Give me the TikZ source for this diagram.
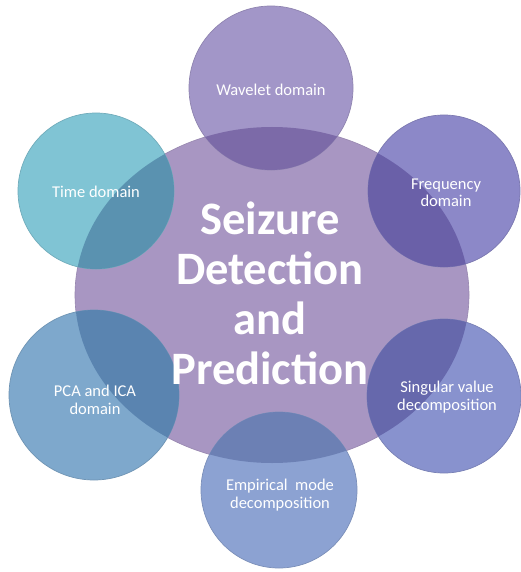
\documentclass[tikz,border=0pt]{standalone}
\usepackage{fontspec}
\setmainfont{Carlito}
\usetikzlibrary{shapes.geometric}
\definecolor{cmain}{RGB}{168,150,194}
\definecolor{cwave}{RGB}{162,150,200}
\definecolor{cwaveD}{RGB}{124,106,168}
\definecolor{cfreq}{RGB}{140,136,200}
\definecolor{cfreqD}{RGB}{106,96,168}
\definecolor{csing}{RGB}{136,146,206}
\definecolor{csingD}{RGB}{102,104,172}
\definecolor{cemp}{RGB}{140,162,210}
\definecolor{cempD}{RGB}{108,128,180}
\definecolor{cpca}{RGB}{126,168,204}
\definecolor{cpcaD}{RGB}{90,132,176}
\definecolor{ctime}{RGB}{128,196,212}
\definecolor{ctimeD}{RGB}{90,146,176}
\tikzset{
  sat/.style={circle, inner sep=0pt, minimum size=#1},
  rim/.style={draw=#1, line width=0.7pt},
  smalltext/.style={text=white, align=center, font=\fontsize{16.5}{17.5}\selectfont},
  bigtext/.style={text=white, align=center, font=\bfseries\fontsize{46.5}{50}\selectfont}
}
\begin{document}
\begin{tikzpicture}[x=1pt,y=-1pt]
\useasboundingbox (0,0) rectangle (520,572);
\fill[white] (0,0) rectangle (520,572);
% hub
\node[ellipse, inner sep=0pt, minimum width=394pt, minimum height=336pt, fill=cmain, draw=cmain!90!black, line width=0.6pt] (hub) at (272,295) {};
% satellites
\node[sat=164pt, fill=cwave, rim=cwave!88!black] (wave) at (271,88) {};
\node[sat=152pt, fill=cfreq, rim=cfreq!88!black] (freq) at (444,191) {};
\node[sat=154pt, fill=csing, rim=csing!88!black] (sing) at (444,396) {};
\node[sat=156pt, fill=cemp, rim=cemp!88!black] (emp) at (279,490) {};
\node[sat=170pt, fill=cpca, rim=cpca!88!black] (pca) at (94,395) {};
\node[sat=156pt, fill=ctime, rim=ctime!88!black] (time) at (96,191) {};
% overlaps with hub
\begin{scope}
  \clip (hub.center) ellipse [x radius=197pt, y radius=168pt];
  \fill[cwaveD] (wave.center) circle [radius=82pt];
  \fill[cfreqD] (freq.center) circle [radius=76pt];
  \fill[csingD] (sing.center) circle [radius=77pt];
  \fill[cempD] (emp.center) circle [radius=78pt];
  \fill[cpcaD] (pca.center) circle [radius=85pt];
  \fill[ctimeD] (time.center) circle [radius=78pt];
\end{scope}
% texts
\node[smalltext] (waveT) at (271,90) {Wavelet domain};
\node[smalltext] (freqT) at (446,193) {Frequency\\domain};
\node[smalltext] (singT) at (447,397) {Singular value\\decomposition};
\node[smalltext] (empT) at (280,495) {Empirical~ mode\\decomposition};
\node[smalltext] (pcaT) at (95,400) {PCA and ICA\\domain};
\node[smalltext] (timeT) at (96,192) {Time domain};
\node[bigtext] (hubT) at (270,293) {Seizure\\Detection\\and\\Prediction};
\end{tikzpicture}
\end{document}
